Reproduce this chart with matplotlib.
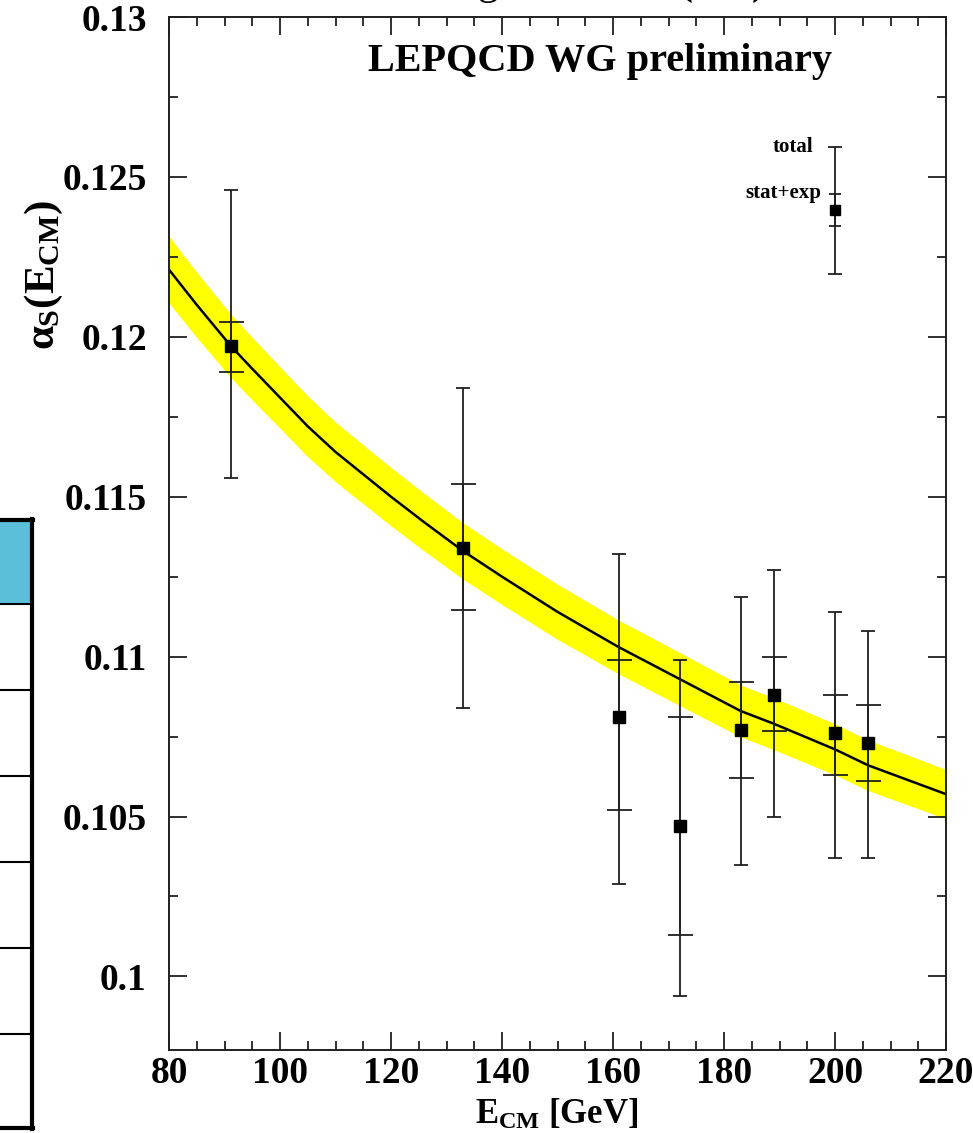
import matplotlib
matplotlib.use("Agg")
import matplotlib.pyplot as plt
from matplotlib.ticker import MultipleLocator
from matplotlib.patches import Rectangle
from matplotlib.lines import Line2D

plt.rcParams['font.family'] = ['Liberation Serif', 'DejaVu Serif']
plt.rcParams['font.weight'] = 'bold'
plt.rcParams['mathtext.fontset'] = 'custom'
plt.rcParams['mathtext.rm'] = 'Liberation Serif:bold'
plt.rcParams['mathtext.it'] = 'Liberation Serif:bold'
plt.rcParams['mathtext.bf'] = 'Liberation Serif:bold'

# measurements alpha_s(E_CM)
energy = [91.2, 133, 161, 172, 183, 189, 200, 206]
alpha = [0.1197, 0.1134, 0.1081, 0.1047, 0.1077, 0.1088, 0.1076, 0.1073]
stat_hi = [0.12045, 0.1154, 0.1099, 0.1081, 0.1092, 0.1100, 0.1088, 0.1085]
stat_lo = [0.1189, 0.11145, 0.1052, 0.1013, 0.1062, 0.10766, 0.1063, 0.1061]
tot_hi = [0.1246, 0.1184, 0.1132, 0.1099, 0.11185, 0.1127, 0.1114, 0.1108]
tot_lo = [0.1156, 0.1084, 0.1029, 0.0994, 0.1035, 0.1050, 0.1037, 0.1037]

curve_e = [80, 85, 91.2, 95, 100, 105, 110, 115, 120, 126, 133, 140, 150, 161,
           172, 183, 189, 200, 206, 220]
curve_a = [0.1221, 0.1210, 0.1197, 0.1190, 0.1181, 0.1172, 0.1164, 0.1157, 0.1150,
           0.1142, 0.1133, 0.1125, 0.1114, 0.1103, 0.1093, 0.1083, 0.1079, 0.1071,
           0.1066, 0.1057]
band_hw = [0.00104, 0.00102, 0.00099, 0.00098, 0.00096, 0.00095, 0.00093, 0.00092,
           0.00091, 0.00090, 0.00088, 0.00087, 0.00086, 0.00084, 0.00083, 0.00081,
           0.00081, 0.00080, 0.00079, 0.00077]

# legend example point
leg_e = 200
leg_a = 0.12396
leg_stat = (0.12346, 0.12446)
leg_tot = (0.12195, 0.12594)

fig = plt.figure(figsize=(9.73, 11.33), dpi=100)
ax = fig.add_axes([169/973, 83/1133, (946-169)/973, (1050-17)/1133])

band_lo = [a - h for a, h in zip(curve_a, band_hw)]
band_hi = [a + h for a, h in zip(curve_a, band_hw)]
ax.fill_between(curve_e, band_lo, band_hi, color='#ffff00', lw=0, zorder=1)
ax.plot(curve_e, curve_a, color='black', lw=1.8, zorder=2)

ecol = '#202020'
err_tot = [[a - l for a, l in zip(alpha, tot_lo)], [h - a for a, h in zip(alpha, tot_hi)]]
err_stat = [[a - l for a, l in zip(alpha, stat_lo)], [h - a for a, h in zip(alpha, stat_hi)]]
ax.errorbar(energy, alpha, yerr=err_tot, fmt='none', ecolor=ecol, elinewidth=1.3,
            capsize=4.7, capthick=1.3, zorder=3)
ax.errorbar(energy, alpha, yerr=err_stat, fmt='none', ecolor=ecol, elinewidth=1.3,
            capsize=9, capthick=1.3, zorder=3)
ax.plot(energy, alpha, 's', color='black', ms=9, zorder=4)

# legend point
ax.errorbar([leg_e], [leg_a], yerr=[[leg_a - leg_tot[0]], [leg_tot[1] - leg_a]], fmt='none',
            ecolor=ecol, elinewidth=1.3, capsize=4.7, capthick=1.3, zorder=3)
ax.errorbar([leg_e], [leg_a], yerr=[[leg_a - leg_stat[0]], [leg_stat[1] - leg_a]], fmt='none',
            ecolor=ecol, elinewidth=1.3, capsize=4.5, capthick=1.3, zorder=3)
ax.plot([leg_e], [leg_a], 's', color='black', ms=7, zorder=4)
ax.text(196, leg_tot[1], 'total', ha='right', va='center', fontsize=15, fontweight='bold')
ax.text(197.5, leg_stat[1] + 0.00005, 'stat+exp', ha='right', va='center', fontsize=15,
        fontweight='bold')

fig.text(600/973, 1 - 62/1133, 'LEPQCD WG preliminary', ha='center', va='center',
         fontsize=29, fontweight='bold')

ax.set_xlim(80, 220)
ax.set_ylim(0.0977, 0.13)
ax.xaxis.set_major_locator(MultipleLocator(20))
ax.xaxis.set_minor_locator(MultipleLocator(5))
ax.yaxis.set_major_locator(MultipleLocator(0.005))
ax.yaxis.set_minor_locator(MultipleLocator(0.0025))
ax.yaxis.set_major_formatter(plt.FuncFormatter(lambda v, p: ('%.3f' % v).rstrip('0')))
ax.tick_params(which='both', direction='in', top=True, right=True, width=1.3, color='#202020')
ax.tick_params(which='major', length=13)
ax.tick_params(which='minor', length=6.5)
ax.tick_params(axis='x', which='major', labelsize=27, pad=4)
ax.tick_params(axis='y', which='major', labelsize=27, pad=16)
for lab in ax.get_xticklabels() + ax.get_yticklabels():
    lab.set_fontweight('bold')
for sp in ax.spines.values():
    sp.set_linewidth(1.4)
    sp.set_color('#202020')

fig.text(557/973, 1 - 1115/1133, r'$E_{CM}$ [GeV]', ha='center', va='center', fontsize=25)
fig.text(44/973, 1 - 275/1133, r'$\alpha_{S}(E_{CM})$', ha='center', va='center',
         rotation=90, fontsize=31)

# title of the slide, cut off above the plot (only descenders show)
fig.text(560/973, 1 + 6/1133, r'Running of $\alpha_s$ to $\alpha_s(M_Z)$', ha='center',
         va='baseline', fontsize=30, fontweight='normal')

# partial table on the left edge
fig.add_artist(Rectangle((0, 1 - 604/1133), 31/973, 84/1133, transform=fig.transFigure,
                         facecolor='#5bbfd9', edgecolor='none'))
row_lines = [604, 690, 776, 862, 948, 1034]
for yl in row_lines:
    fig.add_artist(Line2D([0, 31/973], [1 - yl/1133] * 2, transform=fig.transFigure,
                          color='black', lw=1.5))
fig.add_artist(Line2D([0, 33/973], [1 - 520/1133] * 2, transform=fig.transFigure,
                      color='black', lw=3))
fig.add_artist(Line2D([0, 33/973], [1 - 1128/1133] * 2, transform=fig.transFigure,
                      color='black', lw=3))
fig.add_artist(Line2D([32/973, 32/973], [1 - 519/1133, 1 - 1129/1133], transform=fig.transFigure,
                      color='black', lw=3))

fig.savefig('out.png', dpi=100)
